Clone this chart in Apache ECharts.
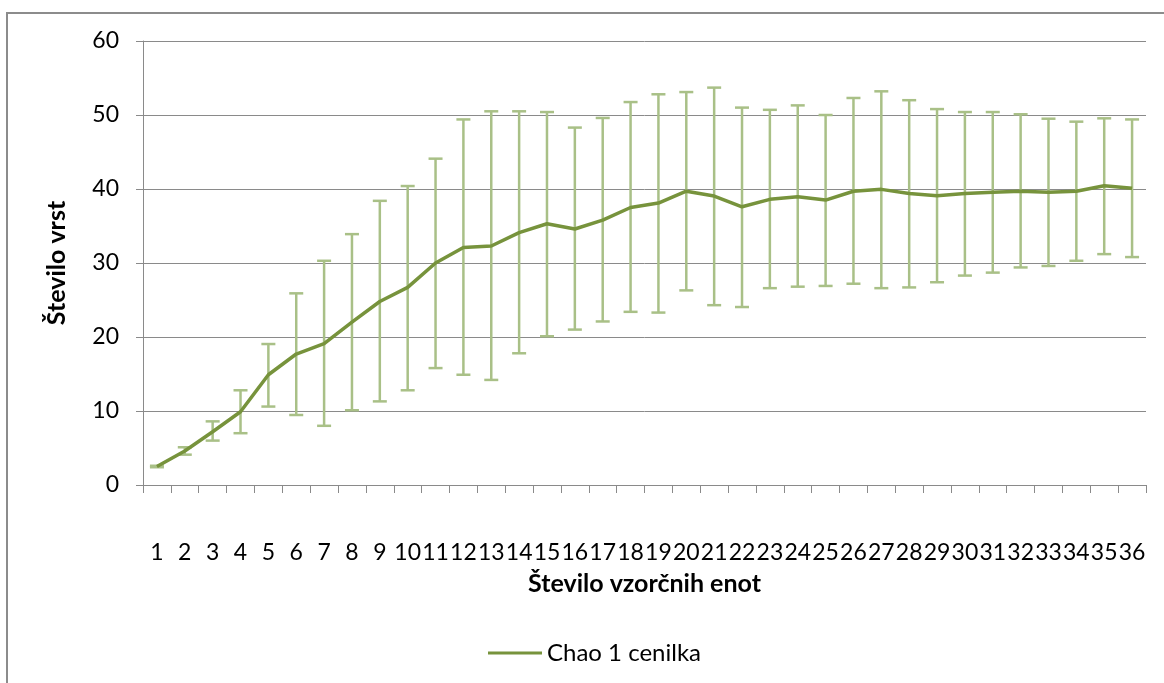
<!DOCTYPE html>
<html>
<head>
<meta charset="utf-8">
<script src="https://cdn.jsdelivr.net/npm/echarts@6/dist/echarts.min.js"></script>
<style>
  html, body { margin: 0; padding: 0; background: #fff; }
  #chart { width: 1164px; height: 683px; }
  #frame { position: absolute; left: 6px; top: 12px; width: 1170px; height: 690px; border: 2px solid #8c8c8c; box-sizing: border-box; pointer-events: none; }
</style>
</head>
<body>
<div id="chart"></div>
<div id="frame"></div>
<script>
// vzorčne enote 1..36
const categories = Array.from({ length: 36 }, (_, i) => String(i + 1));

// Chao 1 cenilka - povprečje
const chaoMean = [
    2.5, 4.6, 7.2, 9.9, 14.9, 17.7, 19.1, 22.0, 24.8, 26.7, 30.0, 32.1,
    32.3, 34.1, 35.3, 34.6, 35.8, 37.5, 38.1, 39.7, 39.05, 37.6, 38.6, 38.96,
    38.5, 39.7, 39.95, 39.4, 39.1, 39.4, 39.55, 39.7, 39.55, 39.7, 40.45, 40.1
];

// zgornja meja intervala
const chaoUpper = [
    2.6, 5.1, 8.6, 12.8, 19.05, 25.9, 30.3, 33.9, 38.4, 40.4, 44.1, 49.4,
    50.5, 50.5, 50.4, 48.3, 49.6, 51.75, 52.8, 53.1, 53.7, 51.0, 50.7, 51.3,
    50.0, 52.3, 53.2, 52.0, 50.8, 50.4, 50.4, 50.1, 49.5, 49.1, 49.55, 49.4
];

// spodnja meja intervala
const chaoLower = [
    2.4, 4.1, 6.0, 7.0, 10.6, 9.46, 8.0, 10.1, 11.3, 12.8, 15.8, 14.9,
    14.2, 17.8, 20.1, 21.0, 22.1, 23.4, 23.3, 26.3, 24.3, 24.05, 26.6, 26.8,
    26.9, 27.2, 26.6, 26.7, 27.4, 28.3, 28.7, 29.4, 29.6, 30.3, 31.2, 30.8
];

const yTicks = { min: 0, max: 60, interval: 10 };

const errorData = categories.map((c, i) => [i, chaoLower[i], chaoUpper[i]]);

const font = 'Lato, "Open Sans", sans-serif';
const gridColor = '#8a8a8a';

const chart = echarts.init(document.getElementById('chart'));

chart.setOption({
    animation: false,
    backgroundColor: '#fff',
    grid: { left: 143, right: 18, top: 41, bottom: 198, containLabel: false },
    legend: {
        data: ['Chao 1 cenilka'],
        left: 483,
        top: 636,
        icon: 'rect',
        itemWidth: 54,
        itemHeight: 3,
        itemGap: 4,
        textStyle: { fontFamily: font, fontSize: 24, color: '#000' }
    },
    xAxis: {
        type: 'category',
        data: categories,
        boundaryGap: true,
        name: 'Število vzorčnih enot',
        nameLocation: 'middle',
        nameGap: 86,
        nameTextStyle: { fontFamily: font, fontSize: 25, fontWeight: 'bold', color: '#000' },
        axisLine: { lineStyle: { color: gridColor, width: 1 } },
        axisTick: { show: true, length: 8, alignWithLabel: false, lineStyle: { color: gridColor } },
        axisLabel: { interval: 0, margin: 56, fontFamily: font, fontSize: 23, color: '#000' },
        splitLine: { show: false }
    },
    yAxis: {
        type: 'value',
        min: yTicks.min,
        max: yTicks.max,
        interval: yTicks.interval,
        name: 'Število vrst',
        nameLocation: 'middle',
        nameGap: 74,
        nameTextStyle: { fontFamily: font, fontSize: 25, fontWeight: 'bold', color: '#000' },
        axisLine: { show: true, lineStyle: { color: gridColor, width: 1 } },
        axisTick: { show: true, length: 7, lineStyle: { color: gridColor } },
        axisLabel: { margin: 24, fontFamily: font, fontSize: 23, color: '#000' },
        splitLine: { lineStyle: { color: gridColor, width: 1 } }
    },
    series: [
        {
            name: 'intervali',
            type: 'custom',
            z: 1,
            silent: true,
            data: errorData,
            renderItem: (params, api) => {
                const x = api.value(0);
                const lo = api.coord([x, api.value(1)]);
                const hi = api.coord([x, api.value(2)]);
                const cap = 7;
                const style = { stroke: '#a9c087', lineWidth: 2.5 };
                return {
                    type: 'group',
                    children: [
                        { type: 'line', shape: { x1: hi[0], y1: hi[1], x2: lo[0], y2: lo[1] }, style },
                        { type: 'line', shape: { x1: hi[0] - cap, y1: hi[1], x2: hi[0] + cap, y2: hi[1] }, style },
                        { type: 'line', shape: { x1: lo[0] - cap, y1: lo[1], x2: lo[0] + cap, y2: lo[1] }, style }
                    ]
                };
            }
        },
        {
            name: 'Chao 1 cenilka',
            type: 'line',
            z: 2,
            data: chaoMean,
            symbol: 'none',
            itemStyle: { color: '#77933c' },
            lineStyle: { color: '#77933c', width: 3.5 }
        }
    ]
});
</script>
</body>
</html>
